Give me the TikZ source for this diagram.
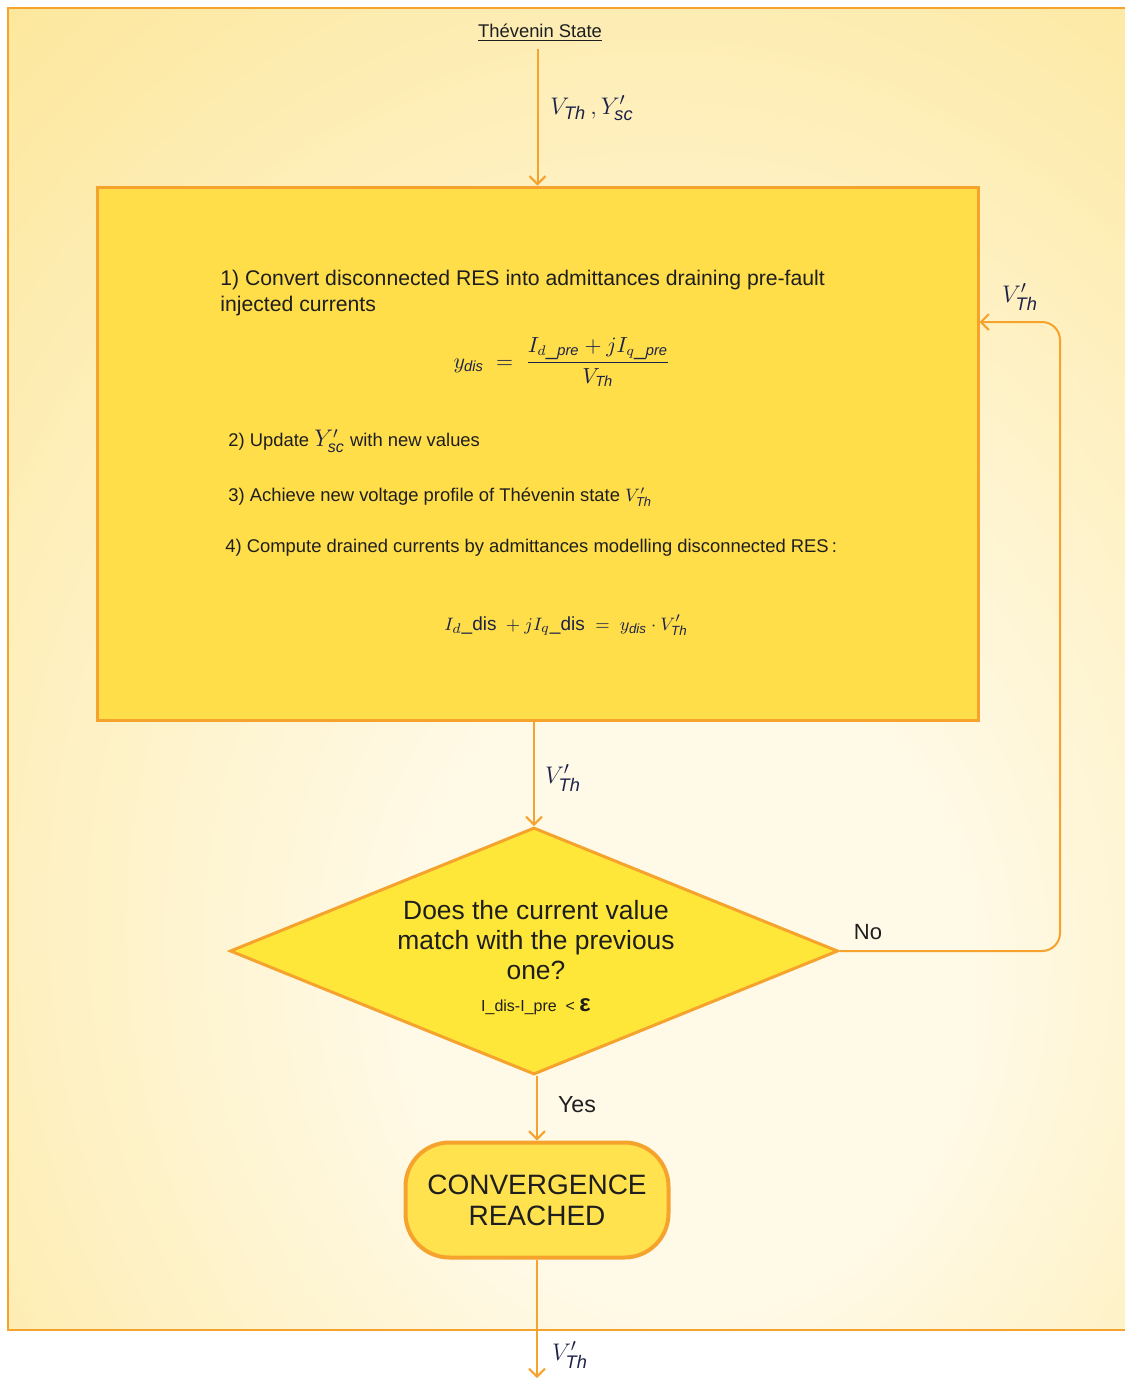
\documentclass[tikz,border=0pt]{standalone}
\usepackage{fontspec}
\setmainfont{Liberation Sans}
\usetikzlibrary{shapes.geometric,arrows.meta}

\definecolor{lineorange}{RGB}{246,163,45}
\definecolor{glowin}{RGB}{255,250,232}
\definecolor{glowout}{RGB}{252,225,132}
\definecolor{procfill}{RGB}{255,222,74}
\definecolor{decfill}{RGB}{255,231,58}
\definecolor{termfill}{RGB}{255,226,78}
\definecolor{inktext}{RGB}{30,30,30}
\definecolor{inkmath}{RGB}{28,34,72}

% soft glow behind the whole loop
\pgfdeclareradialshading{glow}{\pgfpoint{6bp}{-14bp}}{%
  color(0bp)=(glowin); color(12bp)=(glowin); color(52bp)=(glowout); color(80bp)=(glowout)}

\newcommand{\vthp}{\ensuremath{V'_{\mathit{Th}}}}

\begin{document}
\begin{tikzpicture}[x=0.5pt,y=-0.5pt,
    flow/.style={draw=lineorange,line width=1pt,-{Straight Barb[length=4pt,width=8pt]}},
    mlabel/.style={text=inkmath,font=\fontsize{13}{15}\selectfont},
    steptext/.style={anchor=west,inner sep=0pt,text=inktext,font=\fontsize{9.2}{13}\selectfont},
    procbox/.style={draw=lineorange,line width=1.5pt,fill=procfill,minimum width=440.5pt,minimum height=266.5pt},
    decbox/.style={diamond,draw=lineorange,line width=1.5pt,fill=decfill,aspect=2.46,inner sep=0pt,
      minimum width=304pt,minimum height=123.5pt},
    termbox/.style={draw=lineorange,line width=2pt,fill=termfill,rounded corners=22pt,
      minimum width=131.5pt,minimum height=57.5pt,align=center,text=inktext,font=\fontsize{14}{15.5}\selectfont}]
  \useasboundingbox (0,0) rectangle (1125,1378);

  % frame of the iteration
  \shade[shading=glow] (8,8) rectangle (1140,1330);
  \draw[lineorange,line width=1.2pt] (1140,8) -- (8,8) -- (8,1330) -- (1140,1330);

  \node (title) at (540,33) [text=inktext,font=\fontsize{9.2}{11}\selectfont] {\underline{Thévenin State}};

  % step box
  \node (proc) at (537.5,453.5) [procbox] {};
  \node (s1) at (220,293) [steptext,font=\fontsize{10.6}{13}\selectfont,align=left]
    {1) Convert disconnected RES into admittances draining pre-fault\\injected currents};
  \node (f1) at (562,362) [text=inkmath,font=\fontsize{10.5}{12}\selectfont]
    {$y_{\mathit{dis}}\;=\;\displaystyle\frac{I_{d\_\mathit{pre}}+jI_{q\_\mathit{pre}}}{V_{\mathit{Th}}}$};
  \node (s2) at (228,441) [steptext] {2) Update {\color{inkmath}\fontsize{12}{13}\selectfont$Y'_{\mathit{sc}}$} with new values};
  \node (s3) at (228,497) [steptext] {3) Achieve new voltage profile of Thévenin state {\color{inkmath}\vthp}};
  \node (s4) at (225,548) [steptext] {4) Compute drained currents by admittances modelling disconnected RES\,:};
  \node (f2) at (566,625) [text=inkmath,font=\fontsize{9.5}{12}\selectfont]
    {$I_{d}$\_dis ${}+jI_{q}$\_dis $\;=\;y_{\mathit{dis}}\cdot\vthp$};

  % test and exit
  \node (dec) at (534,951) [decbox] {};
  \node (dectext) at (536,958) [align=center,text=inktext,font=\fontsize{13.2}{15}\selectfont]
    {Does the current value\\match with the previous\\one?\\[1pt]
     {\fontsize{8}{10}\selectfont I\_dis-I\_pre\ \ <}\,{\bfseries\fontsize{12}{12}\selectfont ε}};
  \node (term) at (537,1200) [termbox] {CONVERGENCE\\REACHED};

  \coordinate (fb) at (1060,322);
  \coordinate (out) at (537,1378);

  \draw[flow] (title.south -| proc.north) -- (proc.north);
  \draw[flow] (proc.south -| dec.north) -- (dec.north);
  \draw[flow,rounded corners=9pt] (dec.east) -| (fb) -- (proc.east |- fb);
  \draw[flow] (dec.south -| term.north) -- (term.north);
  \draw[flow] (term.south) -- (out);

  \node (lin) at (592,108) [mlabel] {$V_{\mathit{Th}}\,,Y'_{\mathit{sc}}$};
  \node (lmid) at (563,778) [mlabel] {\vthp};
  \node (lfb) at (1020,297) [mlabel] {\vthp};
  \node (lno) at (868,932) [text=inktext,font=\fontsize{11}{13}\selectfont] {No};
  \node (lyes) at (577,1105) [text=inktext,font=\fontsize{11.6}{13}\selectfont] {Yes};
  \node (lout) at (570,1355) [mlabel] {\vthp};
\end{tikzpicture}
\end{document}
